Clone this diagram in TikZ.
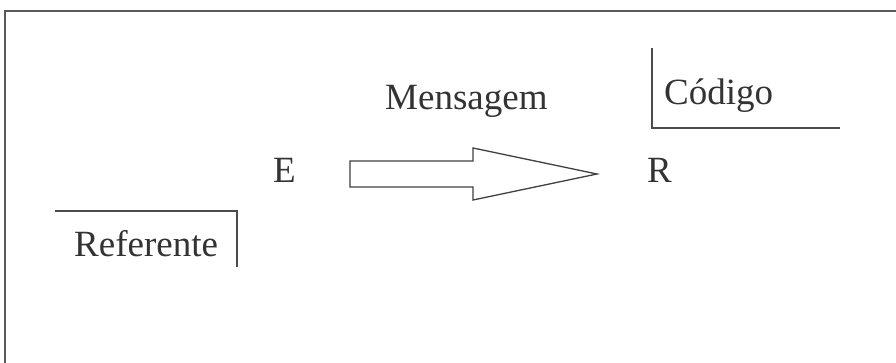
\documentclass[tikz,border=0pt]{standalone}
\usepackage{fontspec}
\setmainfont{Liberation Serif}
\begin{document}
\begin{tikzpicture}[x=1pt,y=-1pt,
  lbl/.style={anchor=base west,inner sep=0pt,text=black!80,font=\fontsize{37}{42}\selectfont},
  rule/.style={draw=black!70,line width=1.6pt},
  frame/.style={draw=black!65,line width=2pt}]
\useasboundingbox (0,0) rectangle (896,363);
\fill[white] (0,0) rectangle (896,363);
% frame (top and left only visible)
\draw[frame] (5,363) -- (5,11) -- (896,11);
% texts
\node[lbl] (msg) at (385,110) {Mensagem};
\node[lbl] (e) at (273,183) {E};
\node[lbl] (r) at (647,183) {R};
\node[lbl] (cod) at (664,105) {Código};
\node[lbl] (ref) at (74,256) {Referente};
% block arrow
\draw[draw=black!75,line width=1.3pt,line join=miter,fill=white]
  (350,161) -- (473,161) -- (473,148) -- (597,174) -- (473,200) -- (473,187) -- (350,187) -- cycle;
% Codigo corner
\draw[rule] (652,48) -- (652,128) -- (840,128);
% Referente corner
\draw[rule] (55,211) -- (237,211) -- (237,267);
\end{tikzpicture}
\end{document}
